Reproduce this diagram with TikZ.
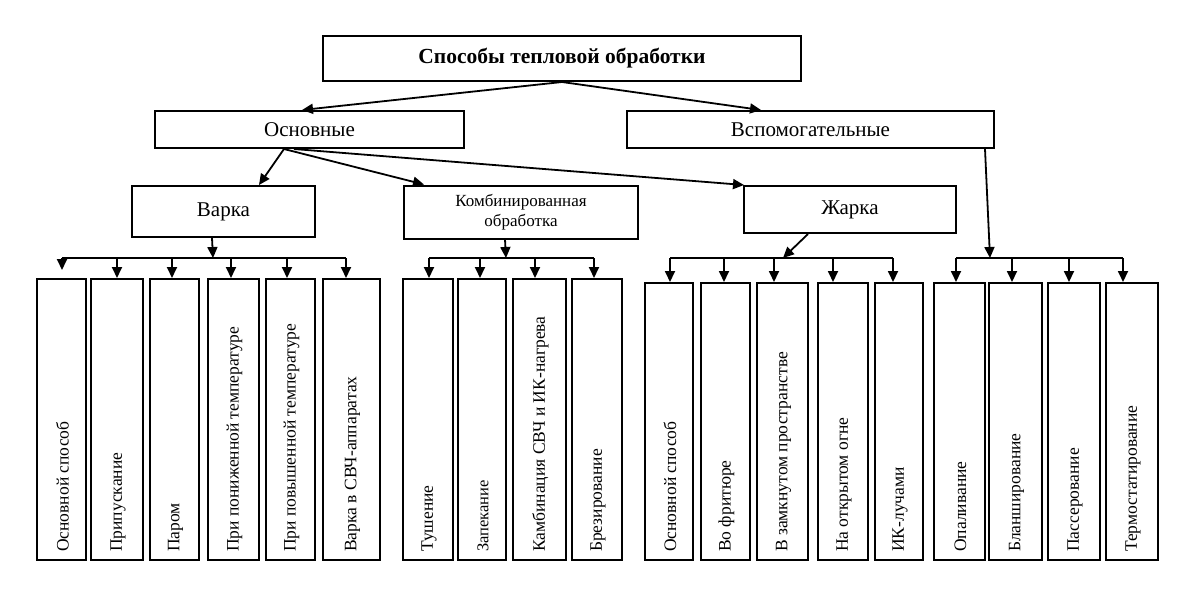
\documentclass[tikz,border=0pt]{standalone}
\usepackage{fontspec}
\setmainfont{Liberation Serif}
\usetikzlibrary{arrows.meta,calc}
\begin{document}
\begin{tikzpicture}[x=1pt,y=-1pt,
 box/.style={draw,line width=2pt,rectangle,inner sep=0pt,align=center,font=\fontsize{21}{24}\selectfont},
 vb/.style={draw,line width=2pt,rectangle,inner sep=0pt,anchor=north},
 vl/.style={rotate=90,anchor=west,inner sep=0pt,font=\fontsize{17.5}{20}\selectfont},
 arr/.style={line width=1.8pt,-{Triangle[length=11pt,width=10pt]}},
 ln/.style={line width=1.8pt}]
\useasboundingbox (0,0) rectangle (1188,590);
\fill[white] (0,0) rectangle (1188,590);

% upper levels
\node[box,minimum width=478pt,minimum height=45pt,font=\bfseries\fontsize{21.5}{24}\selectfont] (top) at (562,58.5) {Способы тепловой обработки};
\node[box,minimum width=309pt,minimum height=37pt] (osn) at (309.5,129.5) {Основные};
\node[box,minimum width=367pt,minimum height=37pt] (vsp) at (810.5,129.5) {Вспомогательные};
\node[box,minimum width=183pt,minimum height=51pt] (var) at (223.5,211.5) {Варка};
\node[box,minimum width=234pt,minimum height=53pt,font=\fontsize{17}{20}\selectfont] (komb) at (521,212) {Комбинированная\\обработка};
\node[box,minimum width=212pt,minimum height=47pt] (zhar) at (850,209.5) {Жарка};

% connectors between upper levels
\draw[arr] (top.south) -- ($(osn.north west)+(148,0)$);
\draw[arr] (top.south) -- ($(vsp.north west)+(135,0)$);
\draw[arr] ($(osn.south west)+(130,0)$) -- ($(var.north west)+(128,0)$);
\draw[arr] ($(osn.south west)+(130,0)$) -- ($(komb.north west)+(21,0)$);
\draw[arr] ($(osn.south west)+(140,0)$) -- ($(zhar.north west)+(1,0)$);

% bus junctions
\coordinate (j1) at (213,258);
\coordinate (j2) at (506,258);
\coordinate (j3) at (783,258);
\coordinate (j4) at (990,258);
\draw[arr] ($(var.south west)+(81,0)$) -- (j1);
\draw[arr] ($(komb.south west)+(102,0)$) -- (j2);
\draw[arr] ($(zhar.south west)+(65,0)$) -- (j3);
\draw[arr] ($(vsp.south west)+(359,0)$) -- (j4);

% vertical boxes: Варка
\node[vb,minimum width=49pt,minimum height=281pt] (b1) at (61.5,278) {};
\node[vb,minimum width=52pt,minimum height=281pt] (b2) at (117,278) {};
\node[vb,minimum width=49pt,minimum height=281pt] (b3) at (174.5,278) {};
\node[vb,minimum width=51pt,minimum height=281pt] (b4) at (233.5,278) {};
\node[vb,minimum width=49pt,minimum height=281pt] (b5) at (290.5,278) {};
\node[vb,minimum width=57pt,minimum height=281pt] (b6) at (351.5,278) {};
% Комбинированная
\node[vb,minimum width=50pt,minimum height=281pt] (b7) at (428,278) {};
\node[vb,minimum width=48pt,minimum height=281pt] (b8) at (482,278) {};
\node[vb,minimum width=53pt,minimum height=281pt] (b9) at (539.5,278) {};
\node[vb,minimum width=50pt,minimum height=281pt] (b10) at (597,278) {};
% Жарка
\node[vb,minimum width=48pt,minimum height=277pt] (b11) at (669,282) {};
\node[vb,minimum width=49pt,minimum height=277pt] (b12) at (725.5,282) {};
\node[vb,minimum width=51pt,minimum height=277pt] (b13) at (782.5,282) {};
\node[vb,minimum width=50pt,minimum height=277pt] (b14) at (843,282) {};
\node[vb,minimum width=48pt,minimum height=277pt] (b15) at (899,282) {};
% Вспомогательные
\node[vb,minimum width=51pt,minimum height=277pt] (b16) at (959.5,282) {};
\node[vb,minimum width=53pt,minimum height=277pt] (b17) at (1015.5,282) {};
\node[vb,minimum width=52pt,minimum height=277pt] (b18) at (1074,282) {};
\node[vb,minimum width=52pt,minimum height=277pt] (b19) at (1132,282) {};

% labels
\node[vl] (t1) at ($(b1.south)+(1,-9)$) {Основной способ};
\node[vl] (t2) at ($(b2.south)+(1,-9)$) {Припускание};
\node[vl] (t3) at ($(b3.south)+(1,-9)$) {Паром};
\node[vl] (t4) at ($(b4.south)+(1,-9)$) {При пониженной температуре};
\node[vl] (t5) at ($(b5.south)+(1,-9)$) {При повышенной температуре};
\node[vl] (t6) at ($(b6.south)+(1,-9)$) {Варка в СВЧ-аппаратах};
\node[vl] (t7) at ($(b7.south)+(1,-9)$) {Тушение};
\node[vl,font=\fontsize{16.5}{18}\selectfont] (t8) at ($(b8.south)+(1,-9)$) {Запекание};
\node[vl] (t9) at ($(b9.south)+(1,-9)$) {Камбинация СВЧ и ИК-нагрева};
\node[vl] (t10) at ($(b10.south)+(1,-9)$) {Брезирование};
\node[vl] (t11) at ($(b11.south)+(1,-9)$) {Основной способ};
\node[vl] (t12) at ($(b12.south)+(1,-9)$) {Во фритюре};
\node[vl] (t13) at ($(b13.south)+(1,-9)$) {В замкнутом пространстве};
\node[vl] (t14) at ($(b14.south)+(1,-9)$) {На открытом огне};
\node[vl] (t15) at ($(b15.south)+(1,-9)$) {ИК-лучами};
\node[vl] (t16) at ($(b16.south)+(1,-9)$) {Опаливание};
\node[vl] (t17) at ($(b17.south)+(1,-9)$) {Бланширование};
\node[vl] (t18) at ($(b18.south)+(1,-9)$) {Пассерование};
\node[vl] (t19) at ($(b19.south)+(1,-9)$) {Термостатирование};

% bus arrow points
\coordinate (p1) at (62,258);   \coordinate (p2) at (117,258);
\coordinate (p3) at (172,258);  \coordinate (p4) at (231,258);
\coordinate (p5) at (287,258);  \coordinate (p6) at (346,258);
\coordinate (p7) at (429,258);  \coordinate (p8) at (480,258);
\coordinate (p9) at (535,258);  \coordinate (p10) at (594,258);
\coordinate (p11) at (670,258); \coordinate (p12) at (724,258);
\coordinate (p13) at (774,258); \coordinate (p14) at (833,258);
\coordinate (p15) at (893,258);
\coordinate (p16) at (956,258); \coordinate (p17) at (1012,258);
\coordinate (p18) at (1069,258); \coordinate (p19) at (1123,258);

\draw[ln] (p1) -- (p6);
\draw[ln] (p7) -- (p10);
\draw[ln] (p11) -- (p15);
\draw[ln] (p16) -- (p19);

\draw[arr,shorten >=8pt] (p1) -- (p1 |- b1.north);
\foreach \i in {2,...,19} {
  \draw[arr] (p\i) -- (p\i |- b\i.north);
}
\end{tikzpicture}
\end{document}
